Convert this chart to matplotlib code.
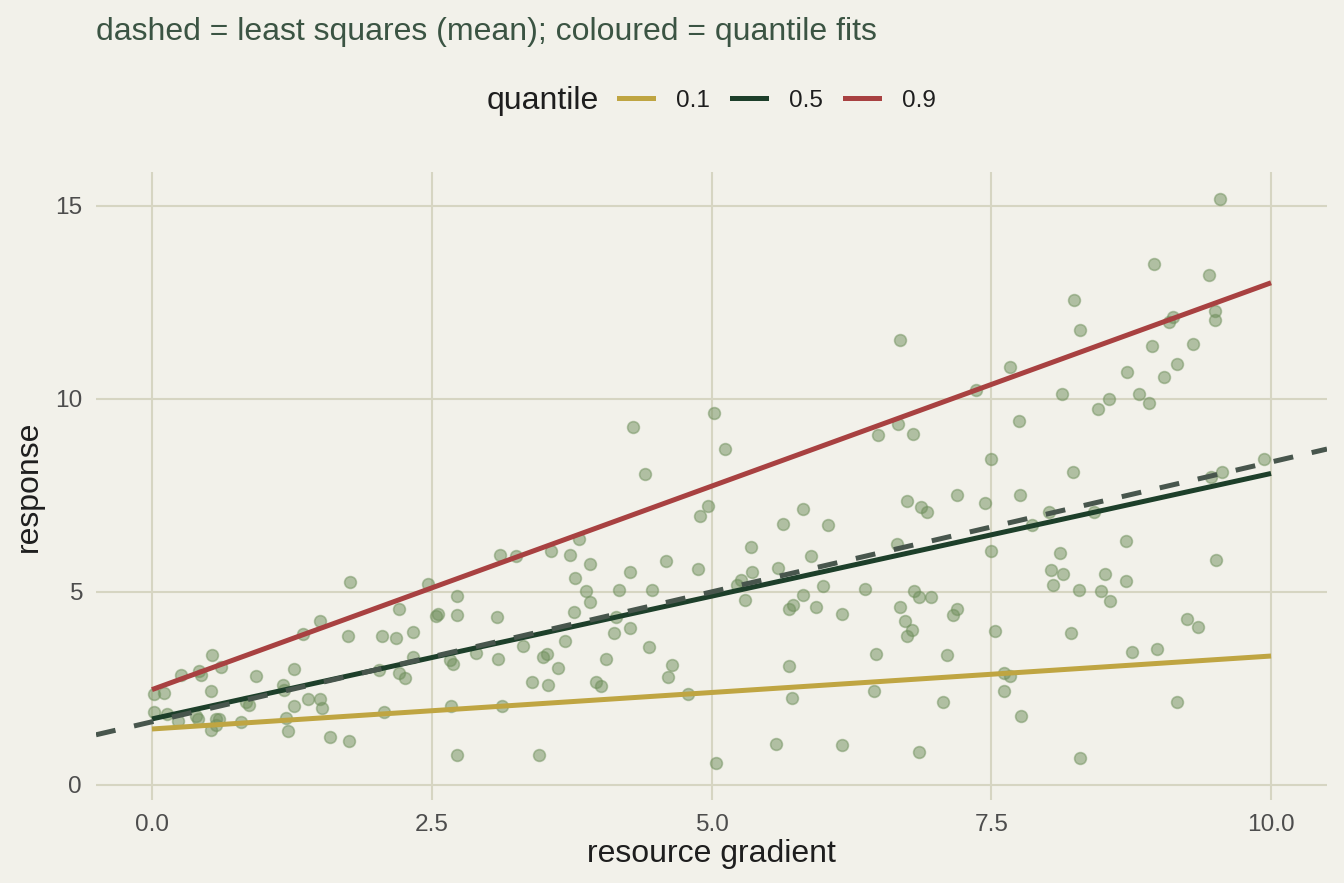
import numpy as np
import matplotlib
matplotlib.use("Agg")
import matplotlib.pyplot as plt
from matplotlib.lines import Line2D
from matplotlib.ticker import FormatStrFormatter

# observed points (resource gradient, response)
x_pts = [0.02, 0.11, 0.02, 0.13, 0.23, 0.26, 0.42, 0.44, 0.39, 0.41, 0.53, 0.54, 0.53, 0.57,
         0.62, 0.60, 0.57, 0.93, 0.80, 0.84, 0.87, 1.17, 1.18, 1.20, 1.22, 1.27, 1.27, 1.35,
         1.39, 1.50, 1.50, 1.52, 1.59, 1.75, 1.77, 1.76, 2.03, 2.06, 2.07, 2.18, 2.21, 2.21,
         2.26, 2.33, 2.33, 2.47, 2.73, 2.54, 2.56, 2.73, 2.66, 2.69, 2.67, 2.73, 2.90, 3.09,
         3.08, 3.11, 3.25, 3.13, 3.32, 3.46, 3.40, 3.49, 3.53, 3.54, 3.63, 3.57, 3.74, 3.82,
         3.91, 3.78, 3.88, 3.91, 3.77, 3.69, 4.17, 4.15, 4.13, 4.06, 3.97, 4.01, 4.27, 4.27,
         4.47, 4.59, 4.88, 4.90, 4.97, 4.44, 4.65, 4.61, 4.79, 5.04, 4.41, 4.30, 5.02, 5.12,
         5.23, 5.26, 5.36, 5.35, 5.30, 5.59, 5.64, 5.82, 6.04, 5.89, 6.00, 5.82, 5.69, 5.73,
         5.93, 6.17, 6.37, 5.69, 5.72, 5.58, 6.17, 6.47, 6.45, 6.75, 6.87, 6.93, 7.19, 7.44,
         7.76, 8.02, 7.86, 8.42, 6.66, 7.50, 8.11, 8.03, 8.14, 8.05, 8.52, 8.70, 8.70, 8.28,
         8.48, 8.56, 6.81, 6.85, 6.96, 6.68, 6.73, 6.79, 6.75, 7.16, 7.19, 7.53, 8.21, 7.10,
         7.61, 7.67, 7.61, 7.07, 7.77, 6.85, 8.29, 9.51, 9.25, 9.35, 8.76, 8.98, 9.16, 9.54,
         8.95, 9.45, 8.24, 8.29, 9.12, 9.09, 9.50, 9.50, 8.94, 9.30, 9.16, 9.04, 8.71, 8.82,
         8.91, 8.55, 8.45, 8.13, 7.67, 7.36, 7.75, 7.50, 8.23, 6.68, 6.49, 6.67, 6.80, 9.94,
         9.46, 9.56]
y_pts = [2.36, 2.38, 1.89, 1.84, 1.65, 2.85, 2.95, 2.85, 1.79, 1.72, 2.44, 3.37, 1.43, 1.70,
         3.06, 1.70, 1.55, 2.82, 1.63, 2.14, 2.07, 2.59, 2.46, 1.74, 1.40, 3.00, 2.05, 3.91,
         2.23, 4.25, 2.23, 2.00, 1.24, 3.86, 5.26, 1.14, 2.98, 3.86, 1.89, 3.81, 4.56, 2.90,
         2.77, 3.96, 3.32, 5.21, 4.90, 4.38, 4.43, 4.40, 3.24, 3.13, 2.05, 0.78, 3.42, 3.26,
         4.35, 5.96, 5.93, 2.05, 3.60, 0.78, 2.67, 3.32, 3.39, 2.59, 3.03, 6.06, 5.96, 6.37,
         5.73, 5.36, 5.03, 4.74, 4.48, 3.73, 5.05, 4.35, 3.94, 3.26, 2.67, 2.56, 5.52, 4.07,
         5.05, 5.80, 5.60, 6.97, 7.23, 3.58, 3.11, 2.80, 2.36, 0.57, 8.06, 9.27, 9.64, 8.70,
         5.18, 5.31, 5.52, 6.17, 4.79, 5.62, 6.76, 7.15, 6.74, 5.93, 5.16, 4.92, 4.56, 4.66,
         4.61, 4.43, 5.08, 3.08, 2.25, 1.06, 1.04, 3.39, 2.44, 7.36, 7.20, 7.07, 7.51, 7.31,
         7.51, 7.07, 6.74, 7.07, 6.24, 6.06, 6.01, 5.57, 5.47, 5.18, 5.47, 6.32, 5.28, 5.05,
         5.03, 4.77, 5.03, 4.87, 4.87, 4.61, 4.25, 4.02, 3.86, 4.40, 4.56, 3.99, 3.94, 3.37,
         2.90, 2.82, 2.44, 2.15, 1.79, 0.85, 0.70, 5.83, 4.30, 4.09, 3.45, 3.52, 2.15, 15.18,
         13.50, 13.21, 12.56, 11.79, 12.12, 11.99, 12.28, 12.05, 11.37, 11.42, 10.91, 10.57, 10.70, 10.13,
         9.90, 10.00, 9.74, 10.13, 10.83, 10.23, 9.43, 8.45, 8.11, 11.53, 9.07, 9.35, 9.09, 8.45,
         7.98, 8.11]

# fitted lines
quantiles = ["0.1", "0.5", "0.9"]
q_intercept = [1.45, 1.71, 2.47]
q_slope = [0.189, 0.636, 1.054]
q_colors = ["#BFA542", "#1D3F2A", "#A84141"]
ols_intercept = 1.636
ols_slope = 0.673

bg = "#F2F1EA"
grid_col = "#D6D5C2"
plt.rcParams["font.family"] = ["Liberation Sans", "DejaVu Sans"]

fig = plt.figure(figsize=(13.44, 8.83), dpi=100, facecolor=bg)
ax = fig.add_axes([96 / 1344, 1 - 800 / 883, (1327 - 96) / 1344, (800 - 172) / 883])
ax.set_facecolor(bg)

ax.scatter(x_pts, y_pts, s=72, color="#6F8F5C", alpha=0.5, edgecolors="#6F8F5C",
           linewidths=1.2, zorder=2)

xs = np.array([0.0, 10.0])
for lab, b0, b1, col in zip(quantiles, q_intercept, q_slope, q_colors):
    ax.plot(xs, b0 + b1 * xs, color=col, lw=3.6, solid_capstyle="butt", zorder=3)

xd = np.array([-0.5, 10.5])
ax.plot(xd, ols_intercept + ols_slope * xd, color="#48564D", lw=3.6,
        dashes=(4, 3.8), zorder=4)

ax.set_xlim(-0.5, 10.5)
ax.set_ylim(-0.39, 15.88)
ax.set_xticks([0, 2.5, 5, 7.5, 10])
ax.set_yticks([0, 5, 10, 15])
ax.xaxis.set_major_formatter(FormatStrFormatter("%.1f"))
ax.grid(True, color=grid_col, lw=1.5, zorder=0)
ax.set_axisbelow(True)
for sp in ax.spines.values():
    sp.set_visible(False)
ax.tick_params(length=0, labelsize=17.6, labelcolor="#4D4D4D", pad=10)
ax.set_xlabel("resource gradient", fontsize=23, color="#1E1E1E", labelpad=2)
ax.set_ylabel("response", fontsize=23, color="#1E1E1E", labelpad=8)

fig.text(96 / 1344, 1 - 32 / 883, "dashed = least squares (mean); coloured = quantile fits",
         fontsize=23, color="#3B5443", ha="left", va="center")

fig.text(487 / 1344, 1 - 101 / 883, "quantile", fontsize=23, color="#1E1E1E",
         ha="left", va="center")
handles = [Line2D([], [], color=c, lw=3.6) for c in q_colors]
fig.legend(handles, quantiles, loc="center left", bbox_to_anchor=(619 / 1344, 1 - 101 / 883),
           ncol=3, frameon=False, fontsize=17.6, handlelength=1.4, handletextpad=0.95,
           columnspacing=0.88, borderpad=0, borderaxespad=0, labelcolor="#1E1E1E")

fig.savefig("out.png", dpi=100, facecolor=bg)
